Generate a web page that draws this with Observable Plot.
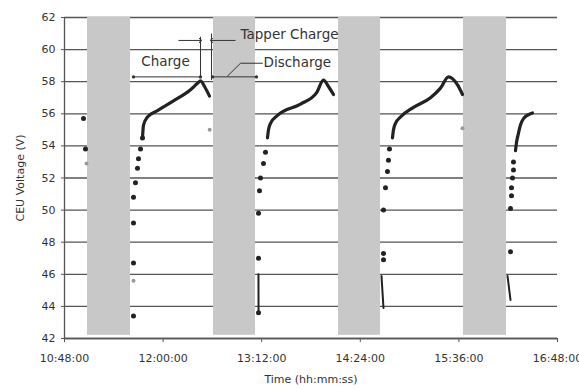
<!DOCTYPE html>
<html><head><meta charset="utf-8">
<script src="https://cdn.jsdelivr.net/npm/d3@7"></script>
<script src="https://cdn.jsdelivr.net/npm/@observablehq/plot@0.6"></script>
<style>
body{margin:0;background:#fff;}
#chart svg{font-family:"DejaVu Sans",sans-serif;display:block;}
</style>
</head><body><div id="chart"></div>
<script>
// ---- data ----
const xTickLabels = ["10:48:00","12:00:00","13:12:00","14:24:00","15:36:00","16:48:00"];
const yTicks = [42,44,46,48,50,52,54,56,58,60,62];

// rest (shaded) periods
const restStart = ["11:04:48","12:36:48","14:08:04","15:39:20"];
const restEnd   = ["11:36:12","13:07:28","14:38:44","16:10:44"];

// individual measured points (sparse part of each charge)
const dotTime = ["11:01:52","11:03:20",
  "11:38:23","11:38:23","11:38:23","11:38:23","11:39:50","11:41:18","11:42:02","11:43:30","11:44:57",
  "13:09:40","13:09:40","13:09:40","13:10:23","13:11:07","13:13:18","13:14:46",
  "14:40:56","14:40:56","14:40:56","14:42:23","14:43:51","14:44:35","14:45:19",
  "16:13:40","16:13:40","16:14:24","16:14:24","16:15:08","16:15:52","16:15:52"];
const dotVolt = [55.7,53.8,
  43.4,46.7,49.2,50.8,51.7,52.6,53.2,53.8,54.5,
  43.6,47.0,49.8,51.2,52.0,52.9,53.6,
  47.3,46.9,50.0,51.4,52.4,53.1,53.8,
  47.4,50.1,50.9,51.4,52.0,52.5,53.0];

// faint points
const faintTime = ["11:04:04","11:38:23","12:34:00","15:38:38"];
const faintVolt = [52.9,45.6,55.0,55.1];

// dense part of each charge (continuous trace)
const curveCycle = [1,1,1,1,1,1,1,1,1,1,
  2,2,2,2,2,2,2,2,2,
  3,3,3,3,3,3,3,3,3,3,
  4,4,4,4,4,4,4];
const curveTime = ["11:44:57","11:45:41","11:48:36","11:55:54","12:07:35","12:20:00","12:25:07","12:27:18","12:30:14","12:33:53",
  "13:16:14","13:16:58","13:18:25","13:23:32","13:40:20","13:52:00","13:57:07","14:00:46","14:04:25",
  "14:47:30","14:48:14","14:49:42","14:53:21","15:02:50","15:15:15","15:22:33","15:28:24","15:35:00","15:38:38",
  "16:17:19","16:18:03","16:19:31","16:20:58","16:23:10","16:28:17","16:29:44"];
const curveVolt = [54.5,55.3,55.8,56.2,56.8,57.5,57.9,58.05,57.7,57.1,
  54.5,55.0,55.4,55.9,56.6,57.3,58.1,57.7,57.2,
  54.5,55.0,55.4,55.8,56.4,57.0,57.6,58.3,57.8,57.2,
  53.7,54.2,54.8,55.3,55.7,56.0,56.05];

// end-of-rest drop traces
const dropCycle = [2,2,3,3,4,4];
const dropTime = ["13:09:38","13:09:42","14:39:28","14:40:56","16:11:29","16:13:40"];
const dropVolt = [46.0,43.6,45.9,43.9,45.9,44.4];

// annotations
const annLabels = ["Charge","Tapper Charge","Discharge"];
const annTime   = ["12:01:45","12:56:31","13:13:18"];
const annVolt   = [59.25,60.9,59.2];

// ---- build ----
const P = d3.utcParse("%H:%M:%S");
const fmt = d3.utcFormat("%H:%M:%S");
const xTicks = xTickLabels.map(P);
const bands = restStart.map((s,i)=>({a:P(s), b:P(restEnd[i])}));
const dots = dotTime.map((t,i)=>({t:P(t), v:dotVolt[i]}));
const faint = faintTime.map((t,i)=>({t:P(t), v:faintVolt[i]}));
const curves = curveTime.map((t,i)=>({c:curveCycle[i], t:P(t), v:curveVolt[i]}));
const drops = dropTime.map((t,i)=>({c:dropCycle[i], t:P(t), v:dropVolt[i]}));
const anns = annLabels.map((l,i)=>({l, t:P(annTime[i]), v:annVolt[i]}));

const dims = [
  {x1:P("11:38:23"), x2:P("12:27:18"), y1:58.3, y2:58.3},
  {x1:P("12:36:04"), x2:P("13:08:12"), y1:58.3, y2:58.3}
];
const verts = [
  {x1:P("12:27:18"), x2:P("12:27:18"), y1:58.3, y2:60.8},
  {x1:P("12:35:20"), x2:P("12:35:20"), y1:58.1, y2:61.0}
];
const arrows = [
  {x1:P("12:11:14"), x2:P("12:27:18"), y1:60.57, y2:60.57},
  {x1:P("12:52:53"), x2:P("12:35:20"), y1:60.57, y2:60.57}
];
const leader = [
  {t:P("12:47:01"), v:58.35},
  {t:P("12:56:31"), v:59.15},
  {t:P("13:12:30"), v:59.15}
];

const chart = Plot.plot({
  width: 579, height: 389,
  marginLeft: 64, marginRight: 22, marginTop: 17, marginBottom: 51,
  style: {fontFamily: "DejaVu Sans, sans-serif", fontSize: "11px", color: "#333", background: "#fff", overflow: "hidden"},
  x: {type: "utc", domain: [xTicks[0], xTicks[xTicks.length-1]]},
  y: {domain: [42, 62]},
  marks: [
    Plot.gridY(yTicks, {stroke: "#555", strokeOpacity: 1, strokeWidth: 1.3}),
    Plot.rect(bands, {x1: "a", x2: "b", y1: 42.2, y2: 62, fill: "#c8c8c8"}),
    Plot.ruleX([xTicks[0]], {stroke: "#555", strokeWidth: 1.3}),
    Plot.ruleY([42], {stroke: "#555", strokeWidth: 1.3}),
    Plot.axisY(yTicks, {tickSize: 3, tickPadding: 6, stroke: "#555", fill: "#333",
      label: "CEU Voltage (V)", labelAnchor: "center", labelArrow: "none", labelOffset: 48}),
    Plot.axisX(xTicks, {tickSize: 4, tickPadding: 12, tickFormat: fmt, stroke: "#555", fill: "#333",
      label: "Time (hh:mm:ss)", labelAnchor: "center", labelArrow: "none", labelOffset: 44}),
    Plot.line(curves, {x: "t", y: "v", z: "c", stroke: "#222", strokeWidth: 3.2, curve: "monotone-x"}),
    Plot.line(drops, {x: "t", y: "v", z: "c", stroke: "#222", strokeWidth: 2}),
    Plot.dot(dots, {x: "t", y: "v", r: 2.5, fill: "#222"}),
    Plot.dot(faint, {x: "t", y: "v", r: 2, fill: "#999"}),
    Plot.link(dims, {x1: "x1", x2: "x2", y1: "y1", y2: "y2", stroke: "#333", strokeWidth: 1, markerStart: "dot", markerEnd: "dot"}),
    Plot.link(verts, {x1: "x1", x2: "x2", y1: "y1", y2: "y2", stroke: "#333", strokeWidth: 1}),
    Plot.link(arrows, {x1: "x1", x2: "x2", y1: "y1", y2: "y2", stroke: "#333", strokeWidth: 1, markerEnd: "arrow"}),
    Plot.line(leader, {x: "t", y: "v", stroke: "#333", strokeWidth: 1}),
    Plot.text(anns.slice(0,1), {x: "t", y: "v", text: "l", textAnchor: "middle", fontSize: 13.5, fill: "#333"}),
    Plot.text(anns.slice(1), {x: "t", y: "v", text: "l", textAnchor: "start", fontSize: 13.5, fill: "#333"})
  ]
});
document.getElementById("chart").append(chart);
</script>
</body></html>
